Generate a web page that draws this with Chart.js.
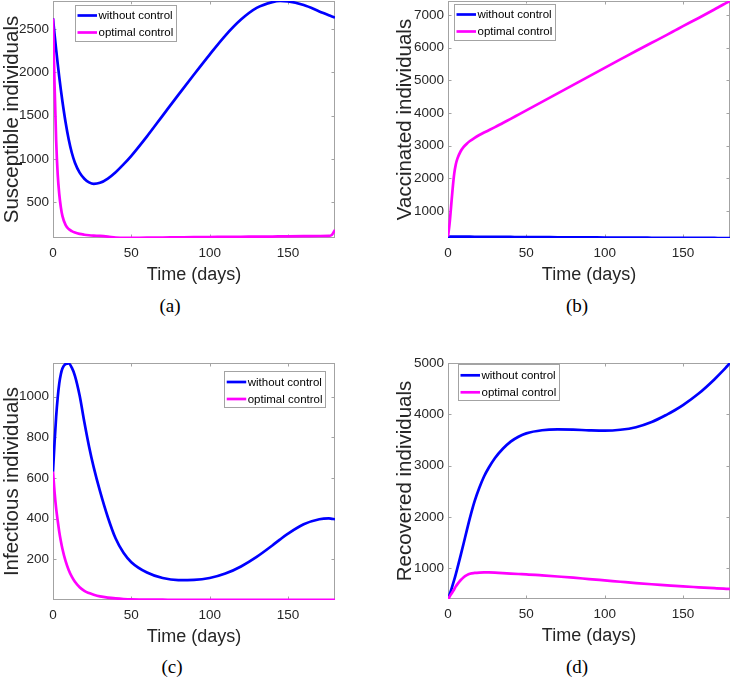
<!DOCTYPE html>
<html>
<head>
<meta charset="utf-8">
<title>Optimal control</title>
<script src="https://cdn.jsdelivr.net/npm/chart.js@4.4.1/dist/chart.umd.min.js"></script>
<style>
    body { margin: 0; background: #fff; }
    .wrap { position: relative; width: 731px; height: 680px; overflow: hidden; }
    .panel { position: absolute; }
    .cap { position: absolute; font-family: "Liberation Serif", "Times New Roman", serif; font-size: 19px; color: #000; transform: translate(-50%, -50%); }
</style>
</head>
<body>
<div class="wrap">
    <div class="panel" style="left:0;top:0"><canvas id="susceptible" width="340" height="292"></canvas></div>
    <div class="panel" style="left:393px;top:0"><canvas id="vaccinated" width="338" height="292"></canvas></div>
    <div class="panel" style="left:0;top:340px"><canvas id="infectious" width="340" height="314"></canvas></div>
    <div class="panel" style="left:393px;top:340px"><canvas id="recovered" width="338" height="313"></canvas></div>
    <div class="cap" style="left:170px;top:306px">(a)</div>
    <div class="cap" style="left:577px;top:306px">(b)</div>
    <div class="cap" style="left:172px;top:667px">(c)</div>
    <div class="cap" style="left:577px;top:667px">(d)</div>
</div>
<script>
    "use strict";

    // Data
    var days = [0, 1, 2, 3, 4, 5, 6, 8, 10, 12, 14, 17, 20, 23, 26, 30, 35, 40, 45, 50, 60, 70, 80, 90, 100, 110, 120, 130, 140, 145, 150, 160, 170, 176, 178, 180];

    var susWithout = [2623, 2440, 2265, 2100, 1945, 1800, 1665, 1425, 1225, 1070, 955, 840, 770, 728, 710, 722, 772, 845, 935, 1035, 1260, 1500, 1740, 1975, 2205, 2425, 2610, 2745, 2812, 2825, 2821, 2778, 2705, 2660, 2646, 2633];
    var susOptimal = [2623, 1850, 1220, 820, 590, 440, 340, 235, 188, 163, 147, 131, 122, 116, 112, 108, 100, 90, 85, 86, 88, 90, 92, 94, 95, 97, 98, 100, 101, 102, 103, 105, 107, 108, 120, 178];

    var vacWithout = [215, 215, 214, 214, 213, 213, 213, 212, 211, 211, 210, 209, 208, 207, 206, 205, 203, 202, 200, 199, 196, 193, 190, 188, 185, 183, 180, 178, 176, 175, 174, 172, 171, 170, 170, 170];
    var vacOptimal = [215, 600, 1150, 1700, 2150, 2430, 2600, 2820, 2960, 3060, 3140, 3240, 3325, 3400, 3470, 3565, 3693, 3820, 3950, 4080, 4340, 4600, 4860, 5120, 5380, 5640, 5900, 6150, 6400, 6530, 6660, 6910, 7170, 7330, 7380, 7430];

    var infWithout = [631, 775, 900, 995, 1065, 1110, 1138, 1160, 1163, 1142, 1102, 1005, 875, 755, 652, 535, 407, 302, 232, 186, 135, 108, 98, 99, 108, 130, 165, 212, 268, 298, 326, 372, 397, 401, 399, 397];
    var infOptimal = [631, 530, 450, 390, 335, 290, 252, 192, 148, 115, 90, 63, 45, 34, 26, 18, 12, 8, 5, 3, 2, 1.5, 1, 1, 1, 1, 1, 1, 1, 1, 1, 1, 1, 1, 1, 1];

    var recWithout = [405, 490, 580, 680, 780, 890, 1005, 1245, 1490, 1740, 1984, 2310, 2570, 2790, 2960, 3150, 3330, 3470, 3565, 3630, 3690, 3706, 3702, 3690, 3683, 3700, 3750, 3850, 4000, 4085, 4180, 4405, 4680, 4865, 4932, 5000];
    var recOptimal = [405, 450, 500, 545, 595, 650, 695, 770, 830, 870, 897, 912, 920, 923, 922, 918, 910, 900, 892, 885, 865, 843, 820, 793, 767, 741, 715, 692, 671, 660, 650, 633, 616, 606, 603, 600];

    var xTicks = [0, 50, 100, 150];
    var susTicks = [500, 1000, 1500, 2000, 2500];
    var vacTicks = [1000, 2000, 3000, 4000, 5000, 6000, 7000];
    var infTicks = [200, 400, 600, 800, 1000];
    var recTicks = [1000, 2000, 3000, 4000, 5000];

    var seriesNames = ["without control", "optimal control"];


    // Chart Global
    Chart.defaults.font.family = '"Liberation Sans", Arial, Helvetica, sans-serif';
    Chart.defaults.color = "#262626";


    // MATLAB style box with inward ticks
    var axesBox = {
        id: "axesBox",
        beforeDatasetsDraw: function (chart) {
            var a = chart.chartArea, ctx = chart.ctx;
            var xs = chart.scales.x, ys = chart.scales.y;
            ctx.save();
            ctx.strokeStyle = "#a3a3a3";
            ctx.lineWidth = 1;
            ctx.strokeRect(a.left + 0.5, a.top + 0.5, a.right - a.left - 1, a.bottom - a.top - 1);
            ctx.beginPath();
            xs.ticks.forEach(function (t) {
                var px = Math.round(xs.getPixelForValue(t.value)) + 0.5;
                ctx.moveTo(px, a.bottom); ctx.lineTo(px, a.bottom - 3.5);
                ctx.moveTo(px, a.top); ctx.lineTo(px, a.top + 3.5);
            });
            ys.ticks.forEach(function (t) {
                var py = Math.round(ys.getPixelForValue(t.value)) + 0.5;
                ctx.moveTo(a.left, py); ctx.lineTo(a.left + 3.5, py);
                ctx.moveTo(a.right, py); ctx.lineTo(a.right - 3.5, py);
            });
            ctx.stroke();
            ctx.restore();
        }
    };


    // Legend drawn inside the axes with a box
    var boxLegend = {
        id: "boxLegend",
        afterDatasetsDraw: function (chart, args, opts) {
            var a = chart.chartArea, ctx = chart.ctx;
            var sets = chart.data.datasets;
            ctx.save();
            ctx.font = '11.5px "Liberation Sans", Arial, sans-serif';
            var tw = 0;
            sets.forEach(function (d) { tw = Math.max(tw, ctx.measureText(d.label).width); });
            var w = 2.5 + 19.5 + 1.5 + tw + 3.5, h = 37;
            var x = opts.side === "right" ? a.right - opts.dx - w : a.left + opts.dx;
            var y = a.top + opts.dy;
            ctx.fillStyle = "#fff";
            ctx.fillRect(x, y, w, h);
            ctx.strokeStyle = "#a3a3a3";
            ctx.lineWidth = 1;
            ctx.strokeRect(Math.round(x) + 0.5, Math.round(y) + 0.5, Math.round(w) - 1, h - 1);
            sets.forEach(function (d, i) {
                var cy = y + 11 + i * 17;
                ctx.strokeStyle = d.borderColor;
                ctx.lineWidth = 2.7;
                ctx.beginPath();
                ctx.moveTo(x + 2.5, cy);
                ctx.lineTo(x + 22, cy);
                ctx.stroke();
                ctx.fillStyle = "#000";
                ctx.textBaseline = "middle";
                ctx.fillText(d.label, x + 23.5, cy + 0.5);
            });
            ctx.restore();
        }
    };


    function points(ys) {
        return days.map(function (d, i) { return {x: d, y: ys[i]}; });
    }

    function fixedTicks(list) {
        return function (scale) {
            scale.ticks = list.map(function (v) { return {value: v}; });
        };
    }

    function panel(id, without, optimal, y, legend, pad) {
        return new Chart(document.getElementById(id), {
            type: "line",
            data: {
                datasets: [{
                        label: seriesNames[0],
                        data: points(without),
                        borderColor: "#0000ff",
                        order: 1
                    },
                    {
                        label: seriesNames[1],
                        data: points(optimal),
                        borderColor: "#ff00ff",
                        order: 0
                    }
                ]
            },
            options: {
                responsive: false,
                animation: false,
                events: [],
                layout: {padding: {left: 0, top: pad.top, right: pad.right, bottom: 0}},
                elements: {
                    line: {borderWidth: 2.7, cubicInterpolationMode: "monotone", fill: false},
                    point: {radius: 0}
                },
                plugins: {
                    legend: {display: false},
                    tooltip: {enabled: false},
                    boxLegend: legend
                },
                scales: {
                    x: {
                        type: "linear",
                        min: 0,
                        max: 180,
                        grid: {display: false, drawTicks: false},
                        border: {display: false},
                        afterBuildTicks: fixedTicks(xTicks),
                        afterFit: function (s) {
                            s.height = 54;
                            s.paddingLeft = 0; s.paddingRight = 0;
                        },
                        ticks: {padding: 7, font: {size: 13.5}, maxRotation: 0, callback: function (v) { return v; }},
                        title: {display: true, text: "Time (days)", font: {size: 18}, padding: {top: 0, bottom: 6}}
                    },
                    y: {
                        type: "linear",
                        min: y.min,
                        max: y.max,
                        grid: {display: false, drawTicks: false},
                        border: {display: false},
                        afterBuildTicks: fixedTicks(y.ticks),
                        afterFit: function (s) {
                            s.width = pad.left;
                            s.paddingTop = 0; s.paddingBottom = 0;
                        },
                        ticks: {padding: 4, font: {size: 13.5}, callback: function (v) { return v; }},
                        title: {display: true, text: y.title, font: {size: 20.5}, padding: {top: 0, bottom: 0}}
                    }
                }
            },
            plugins: [axesBox, boxLegend]
        });
    }


    // Susceptible Chart
    panel("susceptible", susWithout, susOptimal,
        {min: 84, max: 2825, ticks: susTicks, title: "Susceptible individuals"},
        {side: "left", dx: 22, dy: 3.5},
        {left: 53, top: 1, right: 5});


    // Vaccinated Chart
    panel("vaccinated", vacWithout, vacOptimal,
        {min: 170, max: 7430, ticks: vacTicks, title: "Vaccinated individuals"},
        {side: "left", dx: 6, dy: 2.5},
        {left: 55, top: 1, right: 1});


    // Infectious Chart
    panel("infectious", infWithout, infOptimal,
        {min: 0, max: 1165, ticks: infTicks, title: "Infectious individuals"},
        {side: "right", dx: 9, dy: 8},
        {left: 53, top: 23, right: 5});


    // Recovered Chart
    panel("recovered", recWithout, recOptimal,
        {min: 405, max: 5000, ticks: recTicks, title: "Recovered individuals"},
        {side: "left", dx: 10, dy: 1.3},
        {left: 55, top: 23, right: 1});
</script>
</body>
</html>
